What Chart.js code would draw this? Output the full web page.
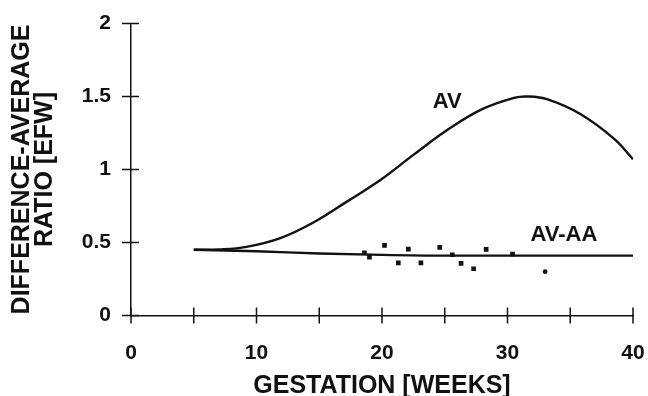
<!DOCTYPE html>
<html>
<head>
<meta charset="utf-8">
<script src="https://cdn.jsdelivr.net/npm/chart.js@4"></script>
<style>
  html, body { margin: 0; padding: 0; background: #fff; }
  #wrap { width: 648px; height: 396px; }
</style>
</head>
<body>
<div id="wrap"><canvas id="chart" width="648" height="396"></canvas></div>
<script>
// AV curve (gestation weeks -> ratio)
const avWeeks  = [5, 7, 9.2, 11.9, 14.6, 17.2, 19.9, 22.5, 25.2, 27.9, 30.5, 31.6, 33.2, 35.8, 38.5, 40];
const avValues = [0.45, 0.452, 0.47, 0.53, 0.64, 0.78, 0.93, 1.10, 1.27, 1.41, 1.49, 1.50, 1.48, 1.38, 1.21, 1.07];

// AV-AA fitted line
const aaWeeks  = [5, 10, 15, 20, 25, 30, 35, 40];
const aaValues = [0.45, 0.44, 0.425, 0.415, 0.41, 0.41, 0.41, 0.41];

// measured points
const ptWeeks  = [18.6, 19.0, 20.2, 21.3, 22.1, 23.1, 24.6, 25.6, 26.3, 27.3, 28.3, 30.4, 33.0];
const ptValues = [0.43, 0.40, 0.48, 0.36, 0.455, 0.36, 0.467, 0.416, 0.357, 0.32, 0.453, 0.42, 0.30];

const xTicks = [0, 5, 10, 15, 20, 25, 30, 35, 40];
const xLabels = [0, 10, 20, 30, 40];
const yTicks = [0, 0.5, 1, 1.5, 2];

const FONT = "'Liberation Sans', Arial, sans-serif";

const toXY = (xs, ys) => xs.map((x, i) => ({ x, y: ys[i] }));

// tick marks that cross the axis lines, plus the curve labels
const crossTicks = {
  id: "crossTicks",
  afterDraw(chart) {
    const { ctx, scales: { x, y }, chartArea } = chart;
    ctx.save();
    ctx.strokeStyle = "#111";
    ctx.lineWidth = 1.5;
    ctx.beginPath();
    xTicks.forEach(v => {
      const px = x.getPixelForValue(v);
      ctx.moveTo(px, chartArea.bottom - 8);
      ctx.lineTo(px, chartArea.bottom + 8);
    });
    yTicks.forEach(v => {
      const py = y.getPixelForValue(v);
      ctx.moveTo(chartArea.left - 9, py);
      ctx.lineTo(chartArea.left + 8, py);
    });
    ctx.stroke();

    ctx.fillStyle = "#111";
    ctx.font = "bold 22px " + FONT;
    ctx.textAlign = "center";
    ctx.textBaseline = "middle";
    ctx.fillText("AV", x.getPixelForValue(25.2), y.getPixelForValue(1.46));
    ctx.fillText("AV-AA", x.getPixelForValue(34.5), y.getPixelForValue(0.55));
    ctx.restore();
  }
};

new Chart(document.getElementById("chart"), {
  type: "line",
  data: {
    datasets: [
      {
        label: "AV",
        data: toXY(avWeeks, avValues),
        borderColor: "#111",
        borderWidth: 2.4,
        pointRadius: 0,
        tension: 0.4,
        fill: false
      },
      {
        label: "AV-AA",
        data: toXY(aaWeeks, aaValues),
        borderColor: "#111",
        borderWidth: 2.4,
        pointRadius: 0,
        cubicInterpolationMode: "monotone",
        fill: false
      },
      {
        label: "points",
        type: "scatter",
        data: toXY(ptWeeks, ptValues),
        backgroundColor: "#111",
        borderColor: "#111",
        borderWidth: 0,
        pointStyle: ptWeeks.map((w, i) => i === ptWeeks.length - 1 ? "circle" : "rect"),
        pointRadius: ptWeeks.map((w, i) => i === ptWeeks.length - 1 ? 2.4 : 3.3)
      }
    ]
  },
  options: {
    responsive: false,
    animation: false,
    layout: { padding: { left: 0, right: 15, top: 23.5, bottom: 0 } },
    plugins: { legend: { display: false }, tooltip: { enabled: false } },
    scales: {
      x: {
        type: "linear",
        min: 0,
        max: 40,
        afterFit(s) { s.height = 80.5; s.paddingLeft = 0; s.paddingRight = 0; },
        afterBuildTicks(s) { s.ticks = xLabels.map(v => ({ value: v })); },
        grid: { display: true, drawOnChartArea: false, drawTicks: false },
        border: { display: true, color: "#111", width: 1.5 },
        ticks: { color: "#111", padding: 25, font: { family: FONT, size: 21, weight: "bold" } },
        title: {
          display: true,
          text: "GESTATION [WEEKS]",
          color: "#111",
          padding: { top: 0, bottom: -3 },
          font: { family: FONT, size: 25, weight: "bold", lineHeight: 1 }
        }
      },
      y: {
        min: 0,
        max: 2,
        afterFit(s) { s.width = 131; s.paddingTop = 0; s.paddingBottom = 0; },
        afterBuildTicks(s) { s.ticks = yTicks.map(v => ({ value: v })); },
        grid: { display: true, drawOnChartArea: false, drawTicks: false },
        border: { display: true, color: "#111", width: 1.5 },
        ticks: {
          color: "#111",
          padding: 20,
          font: { family: FONT, size: 21, weight: "bold" },
          callback: v => String(v)
        },
        title: {
          display: true,
          text: ["DIFFERENCE-AVERAGE", "RATIO [EFW]"],
          color: "#111",
          padding: { top: 10.5, bottom: 0 },
          font: { family: FONT, size: 25, weight: "bold", lineHeight: "23px" }
        }
      }
    }
  },
  plugins: [crossTicks]
});
</script>
</body>
</html>
